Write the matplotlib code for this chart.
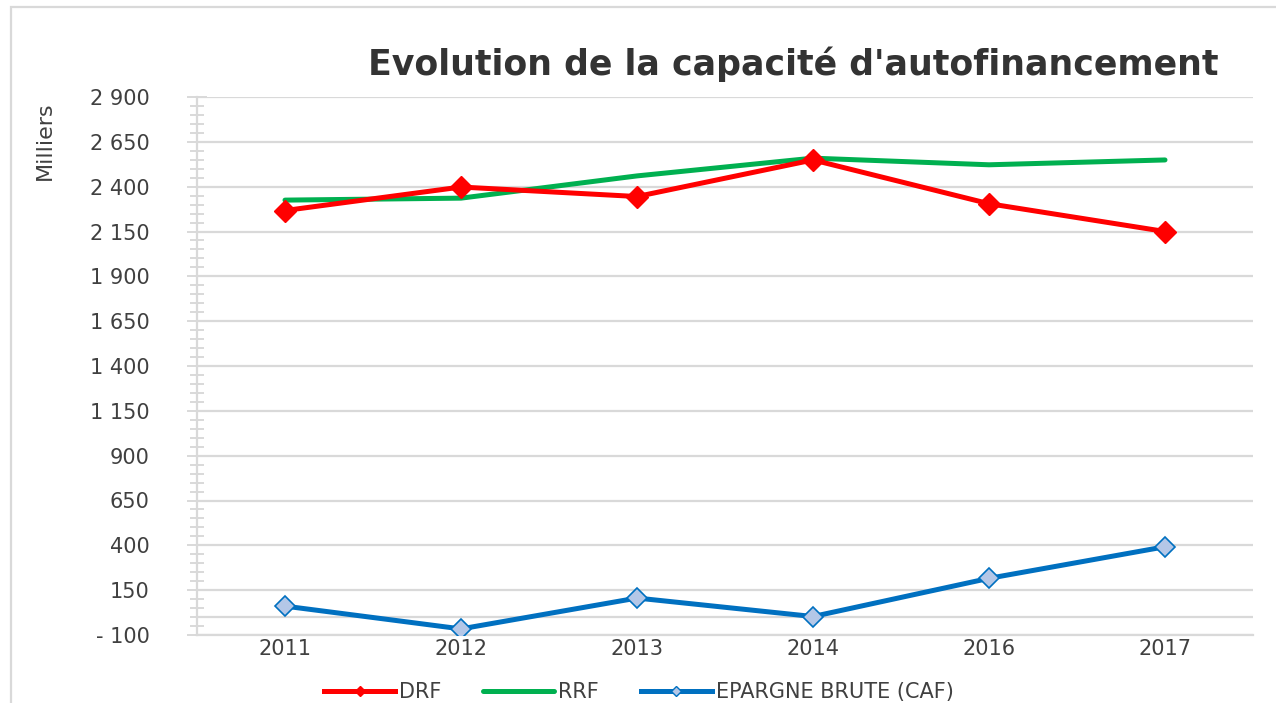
import matplotlib
matplotlib.use("Agg")
import matplotlib.pyplot as plt
from matplotlib.ticker import MultipleLocator, FuncFormatter
from matplotlib.lines import Line2D
from matplotlib.patches import Rectangle

# Données (en milliers)
annees = ["2011", "2012", "2013", "2014", "2016", "2017"]
drf = [2267, 2398, 2345, 2549, 2305, 2150]
rrf = [2325, 2336, 2460, 2559, 2522, 2549]
caf = [61, -66, 106, 3, 216, 392]
y_ticks = [-100, 150, 400, 650, 900, 1150, 1400, 1650, 1900, 2150, 2400, 2650, 2900]

ROUGE = "#ff0000"
VERT = "#00b050"
BLEU = "#0070c0"
GRIS = "#d9d9d9"
TEXTE = "#404040"

plt.rcParams['font.family'] = ['DejaVu Sans']

fig = plt.figure(figsize=(12.76, 7.03), dpi=100)
ax = fig.add_axes([197 / 1276, 1 - 635 / 703, (1253 - 197) / 1276, (635 - 97) / 703])

# cadre du graphique (coupé à droite et en bas)
fig.patches.append(Rectangle((11 / 1276, -0.1), 2, 1 - 7 / 703 + 0.1, transform=fig.transFigure,
                             fill=False, edgecolor=GRIS, linewidth=1.6))

x = list(range(len(annees)))
ax.plot(x, drf, color=ROUGE, linewidth=3.6, marker="D", markersize=11,
        markerfacecolor=ROUGE, markeredgecolor=ROUGE, zorder=4)
ax.plot(x, rrf, color=VERT, linewidth=3.6, solid_capstyle="round", zorder=3)
ax.plot(x, caf, color=BLEU, linewidth=3.6, marker="D", markersize=10,
        markerfacecolor="#b4c7e7", markeredgecolor=BLEU, markeredgewidth=1.2, zorder=4)

ax.set_xlim(-0.5, len(annees) - 0.5)
ax.set_ylim(y_ticks[0], y_ticks[-1])
ax.set_xticks(x)
ax.set_xticklabels(annees)
ax.set_yticks(y_ticks)
ax.yaxis.set_minor_locator(MultipleLocator(50))


def fmt(v, pos):
    v = int(round(v))
    s = "{:,}".format(abs(v)).replace(",", " ")
    return "- " + s if v < 0 else s


ax.yaxis.set_major_formatter(FuncFormatter(fmt))

ax.grid(axis="y", color=GRIS, linewidth=1.6)
ax.axhline(0, color=GRIS, linewidth=1.6, zorder=1)
ax.set_axisbelow(True)
for s in ["top", "right"]:
    ax.spines[s].set_visible(False)
for s in ["left", "bottom"]:
    ax.spines[s].set_color(GRIS)
    ax.spines[s].set_linewidth(1.6)

ax.tick_params(axis="y", which="major", direction="inout", length=14, width=1.4, color=GRIS,
               labelsize=15, labelcolor=TEXTE, pad=27)
ax.tick_params(axis="y", which="minor", direction="inout", length=10, width=1.4, color=GRIS)
ax.tick_params(axis="x", which="both", length=0, labelsize=15, labelcolor=TEXTE, pad=3)

fig.text(45 / 1276, 1 - 141 / 703, "Milliers", rotation=90, ha="center", va="center",
         fontsize=16, color=TEXTE)

fig.text(793 / 1276, 1 - 64 / 703, "Evolution de la capacité d'autofinancement",
         ha="center", va="center", fontsize=25, fontweight="bold", color="#333333")

handles = [
    Line2D([], [], color=ROUGE, linewidth=3.6, marker="D", markersize=5, markerfacecolor=ROUGE),
    Line2D([], [], color=VERT, linewidth=3.6, solid_capstyle="round"),
    Line2D([], [], color=BLEU, linewidth=3.6, marker="D", markersize=5,
           markerfacecolor="#b4c7e7", markeredgecolor=BLEU),
]
fig.legend(handles, ["DRF", "RRF", "EPARGNE BRUTE (CAF)"], loc="center",
           bbox_to_anchor=(639 / 1276, 1 - 692 / 703), ncol=3, frameon=False,
           fontsize=15, handlelength=3.4, handletextpad=0.2, columnspacing=2.0,
           labelcolor=TEXTE)

fig.savefig("out.png", dpi=100)
